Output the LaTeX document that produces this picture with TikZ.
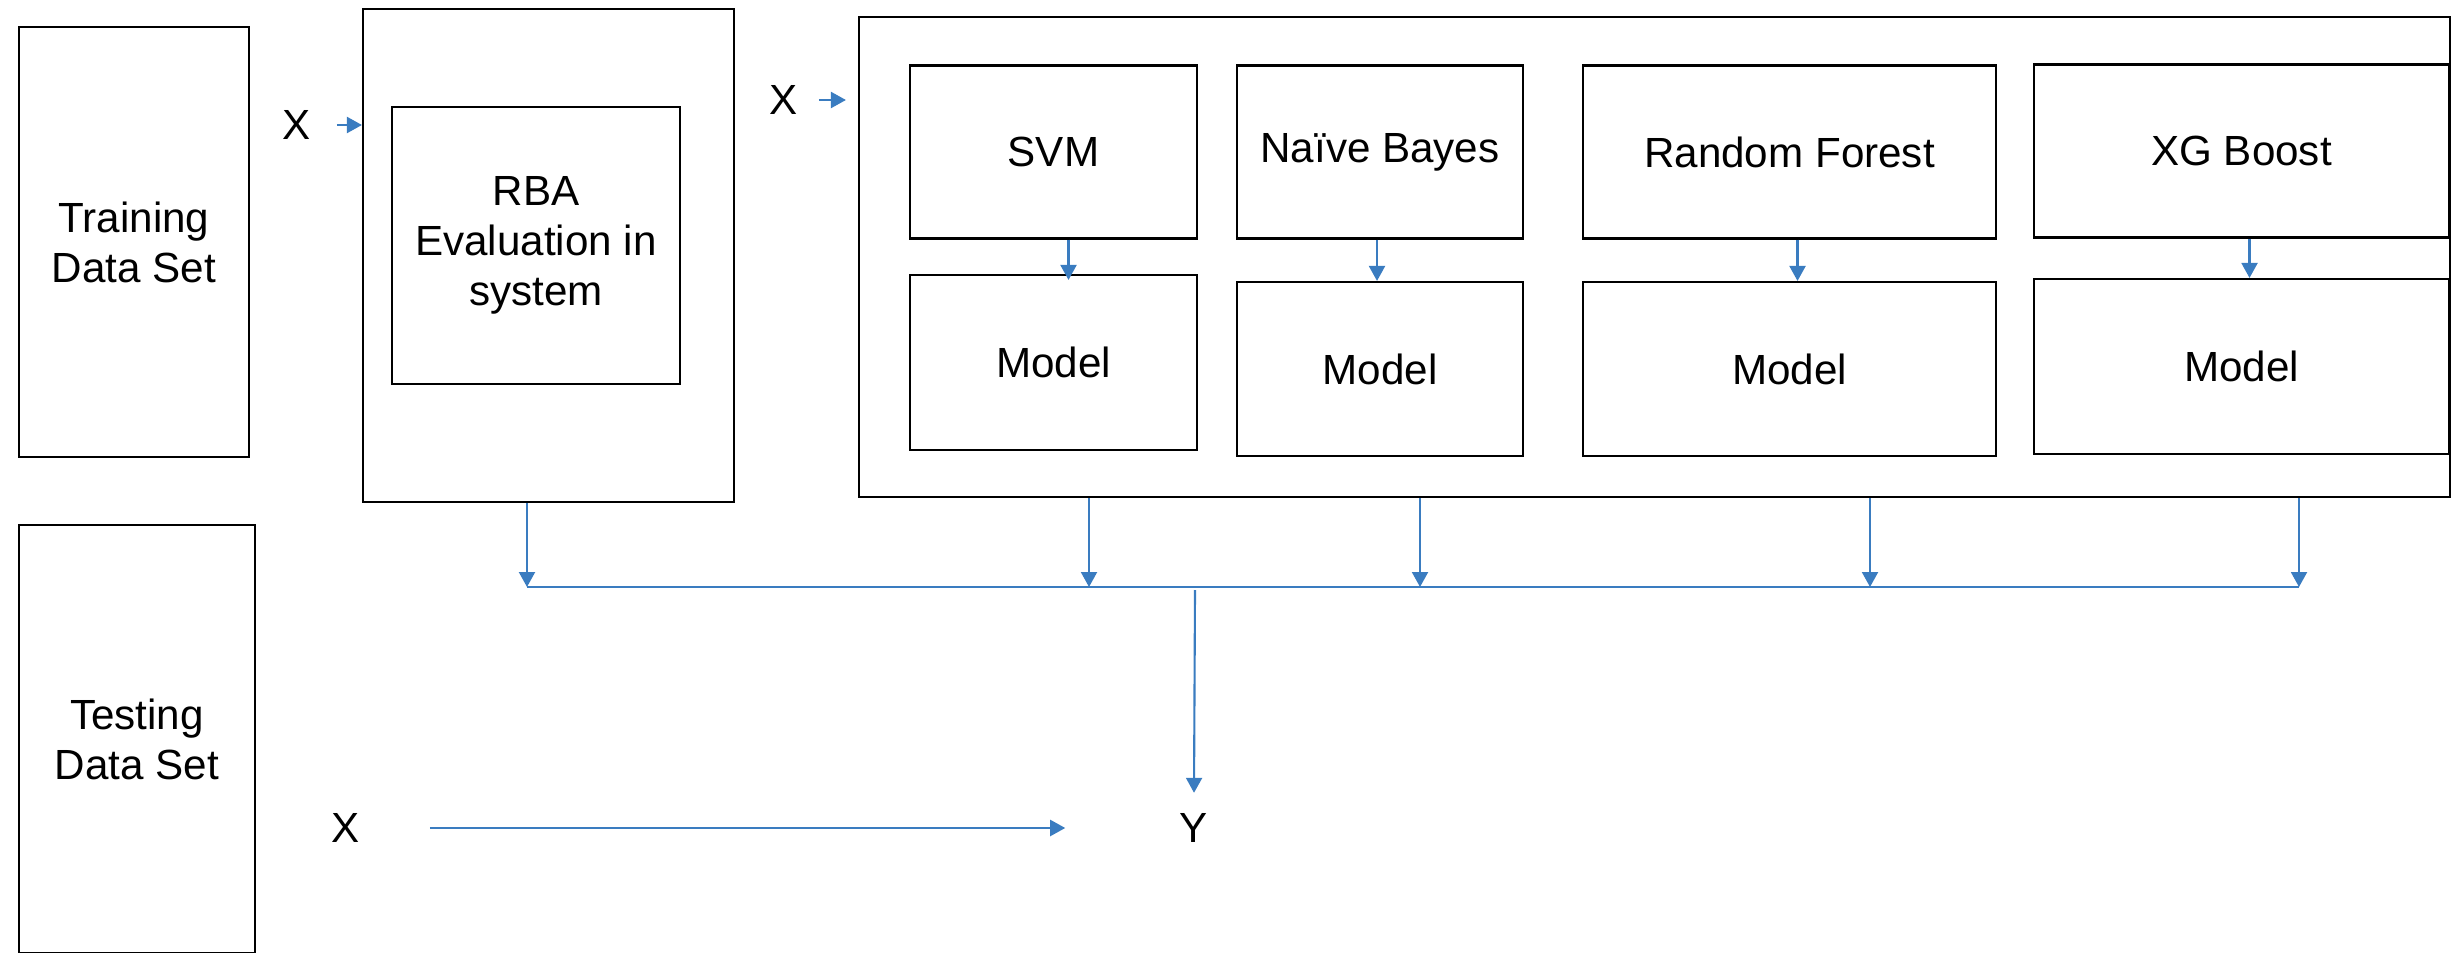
\documentclass[tikz,border=0pt]{standalone}
\usepackage{fontspec}
\setmainfont{Liberation Sans}
\usetikzlibrary{arrows.meta}
\definecolor{flowblue}{RGB}{58,124,192}
\begin{document}
\begin{tikzpicture}[
  databox/.style={rectangle, draw, line width=0.6pt, align=center, font=\fontsize{12}{14.2}\selectfont},
  algobox/.style={databox, minimum height=1.73cm},
  varlabel/.style={inner sep=0.2cm, font=\fontsize{12}{14.2}\selectfont},
  flowarrow/.style={-{Triangle[length=1.5mm,width=1.6mm]}, flowblue, line width=0.6pt}
]
\useasboundingbox (0,0) rectangle (24.54,9.52);

% Data sets
\node[databox, minimum width=2.30cm, minimum height=4.30cm] (train) at (1.34,7.10) {Training\\Data Set};
\node[databox, minimum width=2.36cm, minimum height=4.28cm] (test) at (1.37,2.13) {Testing\\Data Set};

% RBA evaluation
\node[databox, minimum width=3.71cm, minimum height=4.93cm] (rbaouter) at (5.485,6.965) {};
\node[databox, minimum width=2.88cm, minimum height=2.77cm] (rba) at (5.36,7.065) {RBA\\Evaluation in\\system};

% Classifiers and their models
\node[databox, minimum width=15.91cm, minimum height=4.80cm] (models) at (16.545,6.95) {};
\node[algobox, minimum width=2.87cm] (svm) at (10.535,8.00) {SVM};
\node[algobox, minimum width=2.86cm] (nb) at (13.80,8.00) {Naïve Bayes};
\node[algobox, minimum width=4.13cm] (rf) at (17.895,8.00) {Random Forest};
\node[algobox, minimum width=4.15cm] (xg) at (22.415,8.01) {XG Boost};
\node[algobox, minimum width=2.87cm, minimum height=1.75cm] (svmmodel) at (10.535,5.895) {Model};
\node[algobox, minimum width=2.86cm, minimum height=1.74cm] (nbmodel) at (13.80,5.83) {Model};
\node[algobox, minimum width=4.13cm, minimum height=1.74cm] (rfmodel) at (17.895,5.83) {Model};
\node[algobox, minimum width=4.15cm, minimum height=1.75cm] (xgmodel) at (22.415,5.855) {Model};

% Inputs and output
\node[varlabel] (x1) at (2.97,8.27) {X};
\node[varlabel] (x2) at (7.84,8.52) {X};
\node[varlabel] (x3) at (3.46,1.24) {X};
\node[varlabel] (y) at (11.94,1.24) {Y};

% Arrows
\draw[flowarrow, shorten <=0.5mm] (x1.east) -- (rbaouter.west |- x1.east);
\draw[flowarrow, shorten >=1.2mm] (x2.east) -- (models.west |- x2.east);
\draw[flowarrow, shorten <=4.9mm, shorten >=9.4mm] (x3) -- (y);

\draw[flowarrow, shorten >=-0.6mm] ([xshift=1.5mm]svm.south) -- ([xshift=1.5mm]svmmodel.north);
\draw[flowarrow] ([xshift=-0.3mm]nb.south) -- ([xshift=-0.3mm]nbmodel.north);
\draw[flowarrow] ([xshift=0.8mm]rf.south) -- ([xshift=0.8mm]rfmodel.north);
\draw[flowarrow] ([xshift=0.8mm]xg.south) -- ([xshift=0.8mm]xgmodel.north);

% Collecting line
\coordinate (busL) at (5.27,3.65);
\coordinate (busR) at (22.99,3.65);
\coordinate (busY) at (11.95,3.62);
\draw[flowblue, line width=0.7pt] (busL) -- (busR);
\draw[flowarrow] (rbaouter.south -| busL) -- (busL);
\foreach \x in {10.89,14.20,18.70,22.99}
  \draw[flowarrow] (\x,0 |- models.south) -- (\x,3.65);
\draw[flowarrow] (busY) -- (y.north);

\end{tikzpicture}
\end{document}
